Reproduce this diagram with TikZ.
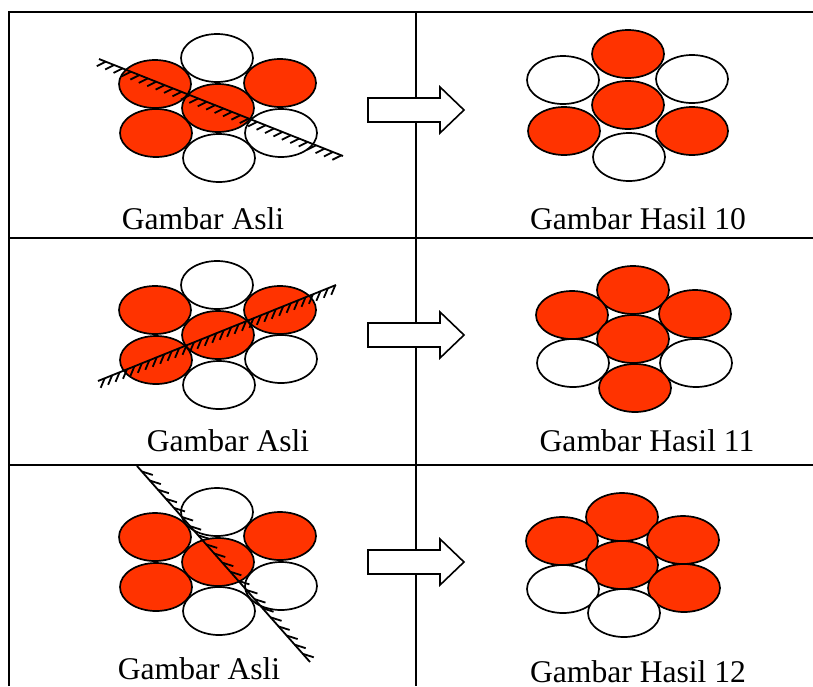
\documentclass[tikz,border=0pt]{standalone}
\usepackage{fontspec}
\setmainfont{Liberation Serif}
\usetikzlibrary{shapes.geometric,calc}
\definecolor{fillred}{RGB}{255,51,0}
\begin{document}
\begin{tikzpicture}[x=1pt,y=-1pt,
  ball/.style={ellipse,draw=black,line width=1.7pt,minimum width=72pt,minimum height=48pt,inner sep=0pt},
  redball/.style={ball,fill=fillred},
  whiteball/.style={ball,fill=white},
  gridline/.style={line width=2pt,black},
  hatch/.style={line width=1.8pt,black},
  tick/.style={line width=1.8pt,black},
  blockarrow/.style={draw=black,line width=1.6pt,fill=white,line join=miter},
  caption/.style={anchor=base,font=\fontsize{31.6pt}{34pt}\selectfont,inner sep=0pt}
]
\useasboundingbox (0,0) rectangle (813,686);
% table
\draw[gridline] (9,686) -- (9,12) -- (813,12);
\draw[gridline] (416,12) -- (416,686);
\draw[gridline] (9,238) -- (813,238);
\draw[gridline] (9,465) -- (813,465);

% ---------- panel 1 left ----------
\node[whiteball] (a1) at (217,58) {};
\node[redball]   (a2) at (155,84) {};
\node[redball]   (a3) at (280,83) {};
\node[redball]   (a4) at (218,108) {};
\node[redball]   (a5) at (156,133) {};
\node[whiteball] (a6) at (281,133) {};
\node[whiteball] (a7) at (219,158) {};
\coordinate (h1a) at (99,59);
\coordinate (h1b) at (343,156);
\draw[hatch] (h1a) -- (h1b);
\foreach \i in {1,...,29} \draw[tick] ($(h1a)!{(\i-0.2)/29}!(h1b)$) -- ++(-9,4.5);
\node[caption] (c1) at (203,229) {Gambar Asli};

% ---------- panel 1 right ----------
\node[redball]   (b1) at (628,54) {};
\node[whiteball] (b2) at (563,80) {};
\node[whiteball] (b3) at (692,79) {};
\node[redball]   (b4) at (628,105) {};
\node[redball]   (b5) at (564,131) {};
\node[redball]   (b6) at (692,131) {};
\node[whiteball] (b7) at (629,157) {};
\node[caption] (d1) at (638,229) {Gambar Hasil 10};

% ---------- panel 2 left ----------
\node[whiteball] (e1) at (217,285) {};
\node[redball]   (e2) at (155,310) {};
\node[redball]   (e3) at (280,310) {};
\node[redball]   (e4) at (218,335) {};
\node[redball]   (e5) at (156,360) {};
\node[whiteball] (e6) at (281,359) {};
\node[whiteball] (e7) at (219,385) {};
\coordinate (h2a) at (98,381);
\coordinate (h2b) at (336,285);
\draw[hatch] (h2a) -- (h2b);
\foreach \i in {1,...,32} \draw[tick] ($(h2a)!{(\i-0.1)/32}!(h2b)$) -- ++(-4,9.5);
\node[caption] (c2) at (228,451) {Gambar Asli};

% ---------- panel 2 right ----------
\node[redball]   (f1) at (633,290) {};
\node[redball]   (f2) at (572,315) {};
\node[redball]   (f3) at (695,314) {};
\node[redball]   (f4) at (633,339) {};
\node[whiteball] (f5) at (573,363) {};
\node[whiteball] (f6) at (696,363) {};
\node[redball]   (f7) at (635,388) {};
\node[caption] (d2) at (647,451) {Gambar Hasil 11};

% ---------- panel 3 left ----------
\node[whiteball] (g1) at (217,512) {};
\node[redball]   (g2) at (155,537) {};
\node[redball]   (g3) at (280,536) {};
\node[redball]   (g4) at (218,562) {};
\node[redball]   (g5) at (156,587) {};
\node[whiteball] (g6) at (281,586) {};
\node[whiteball] (g7) at (219,611) {};
\coordinate (h3a) at (137,466);
\coordinate (h3b) at (310,662);
\draw[hatch] (h3a) -- (h3b);
\foreach \i in {1,...,21} \draw[tick] ($(h3a)!{(\i-0.4)/21.5}!(h3b)$) -- ++(11,3.5);
\node[caption] (c3) at (199,679) {Gambar Asli};

% ---------- panel 3 right ----------
\node[redball]   (k1) at (622,517) {};
\node[redball]   (k2) at (562,541) {};
\node[redball]   (k3) at (683,540) {};
\node[redball]   (k4) at (622,565) {};
\node[whiteball] (k5) at (563,589) {};
\node[redball]   (k6) at (684,588) {};
\node[whiteball] (k7) at (624,613) {};
\node[caption] (d3) at (638,682) {Gambar Hasil 12};

% ---------- block arrows ----------
\foreach \cy in {110,335,562} {
  \draw[blockarrow] (368,\cy-12) -- (440,\cy-12) -- (440,\cy-23) -- (464,\cy) -- (440,\cy+23) -- (440,\cy+12) -- (368,\cy+12) -- cycle;
}
\end{tikzpicture}
\end{document}
